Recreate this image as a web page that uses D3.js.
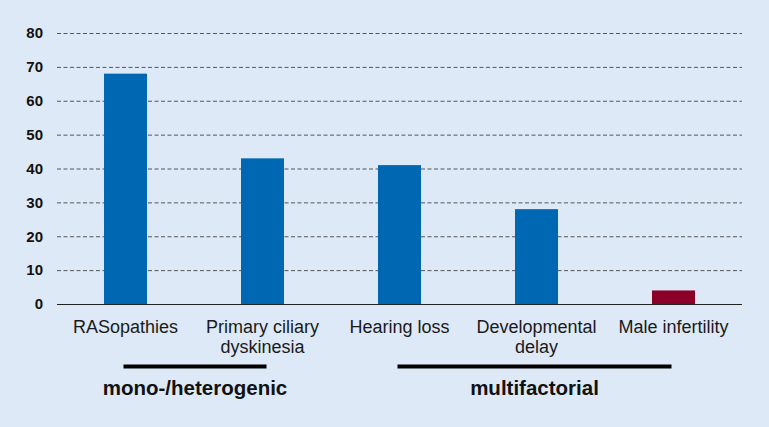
<!DOCTYPE html>
<html><head><meta charset="utf-8">
<script src="https://cdn.jsdelivr.net/npm/d3@7"></script>
<style>body{margin:0;background:#dde9f7;}svg{display:block;font-family:Arial,"Liberation Sans",sans-serif;}</style>
</head><body>
<svg id="c" width="769" height="427"></svg>
<script>
const categories = [["RASopathies"],["Primary ciliary","dyskinesia"],["Hearing loss"],["Developmental","delay"],["Male infertility"]];
const values = [68, 43, 41, 28, 4];
const barColors = ["#0068b3","#0068b3","#0068b3","#0068b3","#8b0029"];
const yTicks = [0,10,20,30,40,50,60,70,80];
const groups = [{label:"mono-/heterogenic", from:0, to:1}, {label:"multifactorial", from:2, to:4}];

const svg = d3.select("#c");
svg.append("rect").attr("width",769).attr("height",427).attr("fill","#dde9f7");
const mLeft = 57, mRight = 742, mTop = 33, mBottom = 304;
const x = d3.scaleBand().domain(d3.range(categories.length)).range([mLeft,mRight]).paddingInner(0.686).paddingOuter(0.343);
const y = d3.scaleLinear().domain([0,80]).range([mBottom, mTop]);

// gridlines
svg.append("g").selectAll("line").data(yTicks.filter(d=>d>0)).join("line")
  .attr("x1",mLeft).attr("x2",mRight).attr("y1",d=>y(d)+0.5).attr("y2",d=>y(d)+0.5)
  .attr("stroke","#555").attr("stroke-width",1).attr("stroke-dasharray","4,2.5");

// y axis labels
const ya = svg.append("g").attr("transform",`translate(${mLeft},0)`)
  .call(d3.axisLeft(y).tickValues(yTicks).tickSize(0).tickPadding(14));
ya.select(".domain").remove();
ya.attr("font-size",15).attr("font-family","Arial, 'Liberation Sans', sans-serif");
ya.selectAll("text").attr("font-size",15).attr("font-weight","bold").attr("fill","#111");

// bars
svg.append("g").selectAll("rect").data(values).join("rect")
  .attr("x",(d,i)=>x(i)).attr("width",x.bandwidth())
  .attr("y",d=>y(d)).attr("height",d=>y(0)-y(d))
  .attr("fill",(d,i)=>barColors[i]);

// baseline
svg.append("line").attr("x1",mLeft).attr("x2",mRight).attr("y1",y(0)+0.5).attr("y2",y(0)+0.5)
  .attr("stroke","#222").attr("stroke-width",1.2);

// category labels
const cl = svg.append("g").selectAll("text").data(categories).join("text")
  .attr("x",(d,i)=>x(i)+x.bandwidth()/2).attr("y",333)
  .attr("text-anchor","middle").attr("font-size",18).attr("fill","#1a1a1a");
cl.selectAll("tspan").data(d=>d).join("tspan")
  .attr("x",function(){return d3.select(this.parentNode).attr("x");})
  .attr("dy",(d,i)=>i===0?0:20).text(d=>d);

// group lines & labels
const cx = i => x(i)+x.bandwidth()/2;
groups.forEach(g=>{
  const x1 = cx(g.from)-2, x2 = cx(g.to)+(g.to===4?-2:4);
  svg.append("line").attr("x1",x1).attr("x2",x2).attr("y1",366.5).attr("y2",366.5)
    .attr("stroke","#000").attr("stroke-width",4);
  svg.append("text").attr("x",(x1+x2)/2).attr("y",395).attr("text-anchor","middle")
    .attr("font-size",20.5).attr("font-weight","bold").attr("fill","#111").text(g.label);
});
</script>
</body></html>
